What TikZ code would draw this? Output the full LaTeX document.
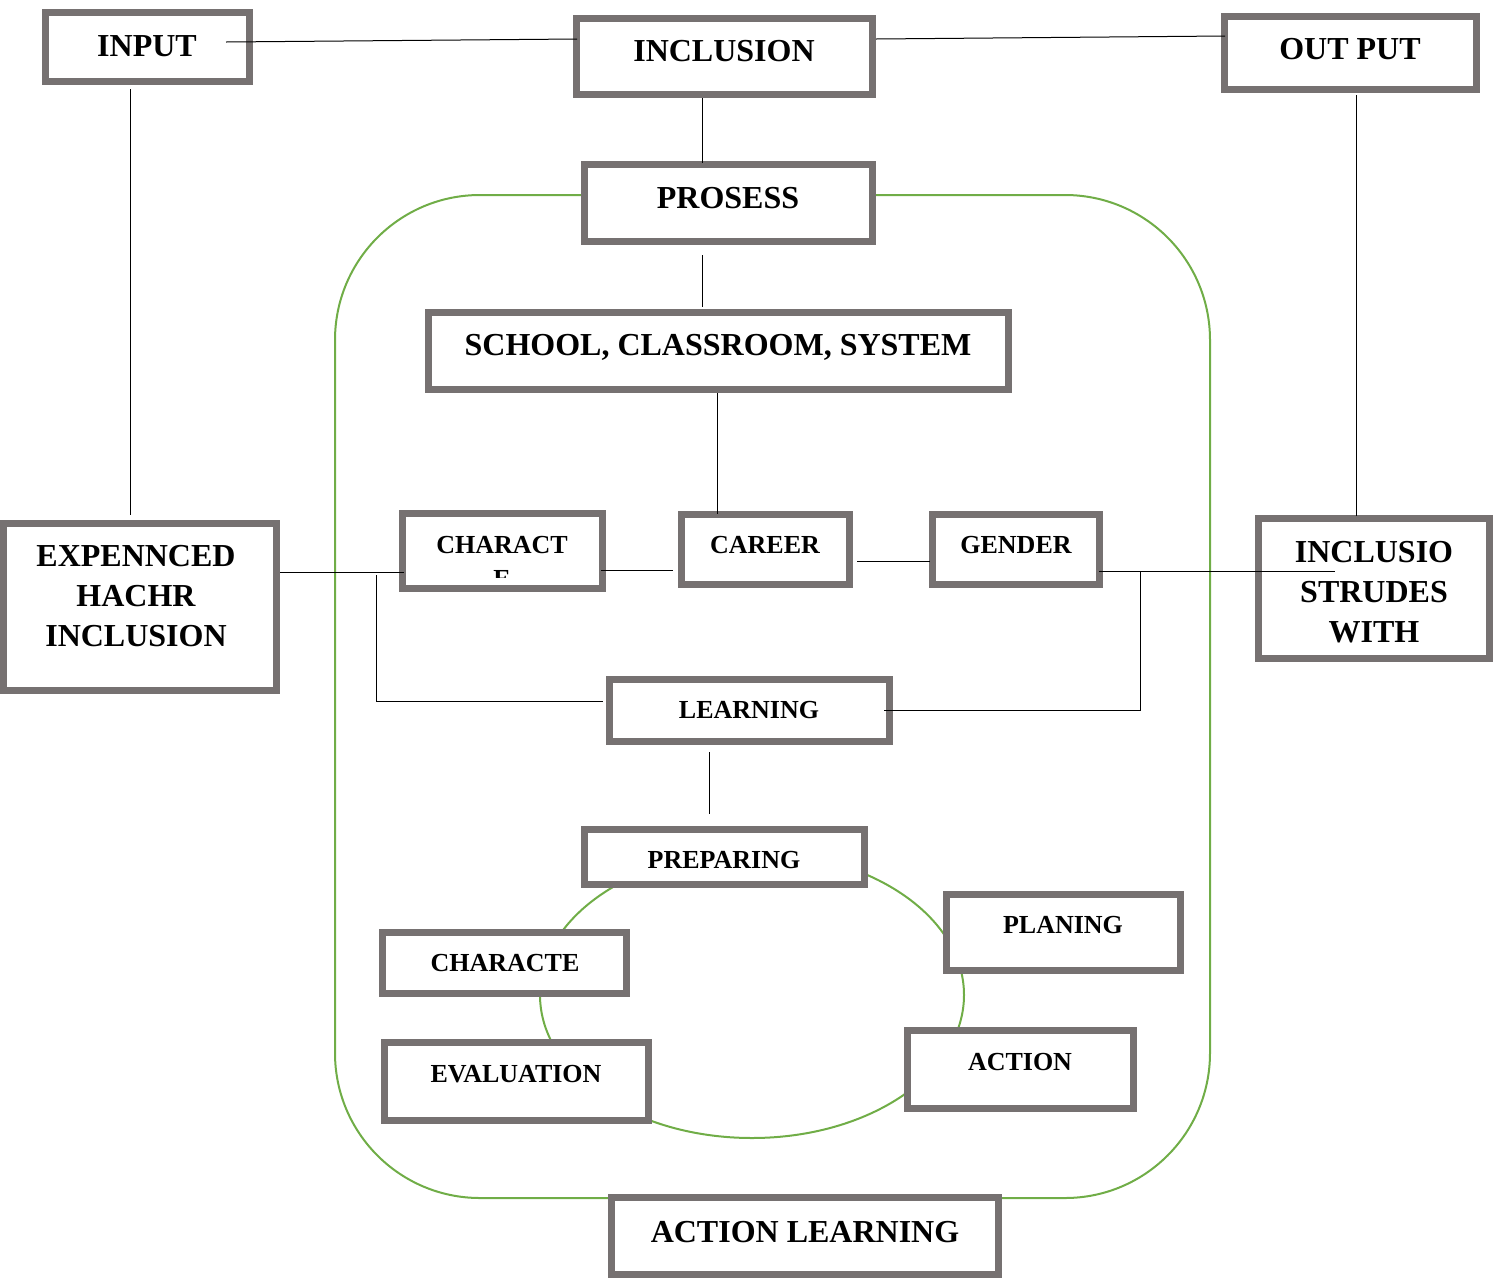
\documentclass[tikz,border=0pt]{standalone}
\usepackage{fontspec}
\setmainfont{Liberation Serif}
\definecolor{boxgray}{HTML}{767171}
\definecolor{lgreen}{HTML}{70AD47}
\begin{document}
\begin{tikzpicture}[x=1pt,y=-1pt,
  gbox/.style={draw=boxgray, line width=7pt, fill=white, rectangle, inner sep=0pt},
  big/.style={font=\fontsize{32}{40}\selectfont\bfseries, align=center, inner sep=0pt, anchor=center},
  small/.style={font=\fontsize{26}{31}\selectfont\bfseries, align=center, inner sep=0pt, anchor=center},
  conn/.style={draw=black, line width=1pt},
  grn/.style={draw=lgreen, line width=2pt}]
\useasboundingbox (0,0) rectangle (1502,1278);
% green shapes
\draw[grn, rounded corners=145pt] (335,195) rectangle (1210,1198);
\draw[grn] (752,995) ellipse [x radius=212, y radius=143];
% boxes
\node[gbox, minimum width=204, minimum height=69] (inp) at (147.5,47) {};
\node[gbox, minimum width=296, minimum height=76] (incl) at (724.5,56.5) {};
\node[gbox, minimum width=252, minimum height=73] (outp) at (1350.5,53) {};
\node[gbox, minimum width=288, minimum height=77] (pros) at (728.5,203) {};
\node[gbox, minimum width=580, minimum height=77] (school) at (718.5,351) {};
\node[gbox, minimum width=273, minimum height=167] (exp) at (140,607) {};
\node[gbox, minimum width=200, minimum height=75] (chr) at (502.5,551) {};
\node[gbox, minimum width=168, minimum height=70] (car) at (765.5,549.5) {};
\node[gbox, minimum width=167, minimum height=70] (gen) at (1016,549.5) {};
\node[gbox, minimum width=231, minimum height=140] (incs) at (1374,588.5) {};
\node[gbox, minimum width=280, minimum height=62] (learn) at (749.5,710.5) {};
\node[gbox, minimum width=280, minimum height=55] (prep) at (724.5,857) {};
\node[gbox, minimum width=234, minimum height=76] (plan) at (1063.5,932.5) {};
\node[gbox, minimum width=244, minimum height=61] (chre) at (504.5,963) {};
\node[gbox, minimum width=264, minimum height=78] (eval) at (516.5,1081.5) {};
\node[gbox, minimum width=226, minimum height=78] (act) at (1020.5,1069.5) {};
\node[gbox, minimum width=387, minimum height=77] (actl) at (805,1236) {};
% texts
\node[big] (inp-t) at (147,46) {INPUT};
\node[big] (incl-t) at (724,51) {INCLUSION};
\node[big] (outp-t) at (1350,49) {OUT PUT};
\node[big] (pros-t) at (728,198) {PROSESS};
\node[big] (school-t) at (718,347) {SCHOOL, CLASSROOM, SYSTEM};
\node[big] (exp-t) at (136,596) {EXPENNCED\\HACHR\\INCLUSION};
\node[small] (chr-t) at (502,545) {CHARACT};
\begin{scope}
\clip (405,515) rectangle (600,577);
\node[small] (chr-e) at (502,579) {E};
\end{scope}
\node[small] (car-t) at (765,545) {CAREER};
\node[small] (gen-t) at (1016,545) {GENDER};
\node[big] (incs-t) at (1374,592) {INCLUSIO\\STRUDES\\WITH};
\node[small] (learn-t) at (749,710) {LEARNING};
\node[small] (prep-t) at (724,860) {PREPARING};
\node[small] (plan-t) at (1063,925) {PLANING};
\node[small] (chre-t) at (505,963) {CHARACTE};
\node[small] (eval-t) at (516,1074) {EVALUATION};
\node[small] (act-t) at (1020,1062) {ACTION};
\node[big] (actl-t) at (805,1232) {ACTION LEARNING};
% connector end points
\coordinate (c1) at (226,42);
\coordinate (c2) at (577,39);
\coordinate (c3) at (876,39);
\coordinate (c4) at (1225,36);
\coordinate (c5) at (130,89);
\coordinate (c6) at (130,515);
\coordinate (c7) at (702,98);
\coordinate (c8) at (702,163);
\coordinate (c9) at (702,255);
\coordinate (c10) at (702,307);
\coordinate (c11) at (717,393);
\coordinate (c12) at (717,514);
\coordinate (c13) at (1356,95);
\coordinate (c14) at (1356,516);
\coordinate (c15) at (280,572);
\coordinate (c16) at (404,572);
\coordinate (c17) at (376,575);
\coordinate (c18) at (603,701);
\coordinate (c19) at (601,570);
\coordinate (c20) at (673,570);
\coordinate (c21) at (857,561);
\coordinate (c22) at (930,561);
\coordinate (c23) at (1099,571);
\coordinate (c24) at (1335,571);
\coordinate (c25) at (1140,572);
\coordinate (c26) at (884,710);
\coordinate (c27) at (709,752);
\coordinate (c28) at (709,814);
% connectors
\draw[conn] (c1) -- (c2);
\draw[conn] (c3) -- (c4);
\draw[conn] (c5) -- (c6);
\draw[conn] (c7) -- (c8);
\draw[conn] (c9) -- (c10);
\draw[conn] (c11) -- (c12);
\draw[conn] (c13) -- (c14);
\draw[conn] (c15) -- (c16);
\draw[conn] (c17) |- (c18);
\draw[conn] (c19) -- (c20);
\draw[conn] (c21) -- (c22);
\draw[conn] (c23) -- (c24);
\draw[conn] (c25) |- (c26);
\draw[conn] (c27) -- (c28);
\end{tikzpicture}
\end{document}
